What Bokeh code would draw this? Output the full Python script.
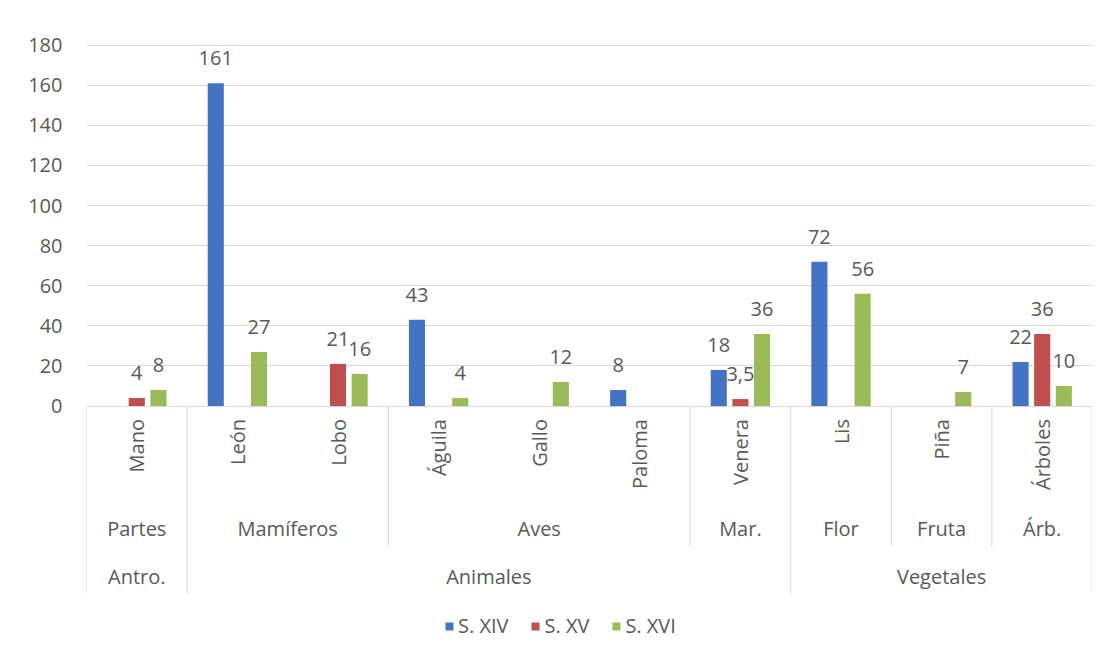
import math
from bokeh.plotting import figure
from bokeh.models import ColumnDataSource, FactorRange, Range1d, FixedTicker, Legend, LegendItem
from bokeh.transform import dodge
from bokeh.core.properties import value
from bokeh.embed import file_html
from bokeh.resources import INLINE

groups = ["Antro.", "Animales", "Animales", "Animales", "Animales", "Animales", "Animales", "Vegetales", "Vegetales", "Vegetales"]
subgroups = ["Partes", "Mamíferos", "Mamíferos", "Aves", "Aves", "Aves", "Mar.", "Flor", "Fruta", "Árb."]
items = ["Mano", "León", "Lobo", "Águila", "Gallo", "Paloma", "Venera", "Lis", "Piña", "Árboles"]

series_names = ["S. XIV", "S. XV", "S. XVI"]
s14 = [0, 161, 0, 43, 0, 8, 18, 72, 0, 22]
s15 = [4, 0, 21, 0, 0, 0, 3.5, 0, 0, 36]
s16 = [8, 27, 16, 4, 12, 0, 36, 56, 7, 10]
y_ticks = [0, 20, 40, 60, 80, 100, 120, 140, 160, 180]

colors = ["#4472C4", "#C0504D", "#9BBB59"]
offsets = [-0.215, 0.0, 0.215]
FONT = "Open Sans"
TXT = "#595959"
LINE = "#D9D9D9"

factors = list(zip(groups, subgroups, items))

# axis-band depths below the zero line (data units of the value axis)
SUB_DEPTH = -70
GRP_DEPTH = -93.5

p = figure(x_range=FactorRange(*factors, factor_padding=0, subgroup_padding=0, group_padding=0),
           y_range=Range1d(-116.4, 180.3),
           frame_width=1006, frame_height=595, output_backend="svg", toolbar_location=None,
           min_border_left=86, min_border_right=0, min_border_top=44, min_border_bottom=0)

p.xaxis.visible = False
p.xgrid.grid_line_color = None
p.ygrid.grid_line_color = LINE
p.ygrid.ticker = FixedTicker(ticks=y_ticks)
p.yaxis.ticker = FixedTicker(ticks=y_ticks)
p.yaxis.axis_line_color = None
p.yaxis.major_tick_line_color = None
p.yaxis.minor_tick_line_color = None
p.yaxis.major_label_text_font = FONT
p.yaxis.major_label_text_font_size = "20px"
p.yaxis.major_label_text_color = TXT
p.yaxis.major_label_standoff = 18
p.outline_line_color = None

# category labels (three levels) placed through the categorical scale
item_src = ColumnDataSource(dict(x=factors, y=[0] * len(factors), t=items))
p.text(x="x", y="y", text="t", source=item_src, angle=math.pi / 2,
       text_align="right", text_baseline="middle", y_offset=13,
       text_font=value(FONT), text_font_size="20px", text_color=TXT)

sub_keys = []
for g, s in zip(groups, subgroups):
    if (g, s) not in sub_keys:
        sub_keys.append((g, s))
sub_src = ColumnDataSource(dict(x=sub_keys, y=[0] * len(sub_keys), t=[k[1] for k in sub_keys]))
p.text(x="x", y="y", text="t", source=sub_src, text_align="center", text_baseline="middle",
       y_offset=122, text_font=value(FONT), text_font_size="20px", text_color=TXT)

grp_keys = []
for g in groups:
    if g not in grp_keys:
        grp_keys.append(g)
grp_src = ColumnDataSource(dict(x=grp_keys, y=[0] * len(grp_keys), t=grp_keys))
p.text(x="x", y="y", text="t", source=grp_src, text_align="center", text_baseline="middle",
       y_offset=170, text_font=value(FONT), text_font_size="20px", text_color=TXT)

# separators between groups / subgroups
left_f, left_d = [], []
for i, f in enumerate(factors):
    if i == 0 or groups[i] != groups[i - 1]:
        left_f.append(f); left_d.append(GRP_DEPTH)
    elif subgroups[i] != subgroups[i - 1]:
        left_f.append(f); left_d.append(SUB_DEPTH)
sep_src = ColumnDataSource(dict(x=left_f, y0=[0] * len(left_f), y1=left_d))
p.segment(x0=dodge("x", -0.5, range=p.x_range), x1=dodge("x", -0.5, range=p.x_range),
          y0="y0", y1="y1", source=sep_src, line_color=LINE, line_width=1)
end_src = ColumnDataSource(dict(x=[factors[-1]], y0=[0], y1=[GRP_DEPTH]))
p.segment(x0=dodge("x", 0.497, range=p.x_range), x1=dodge("x", 0.497, range=p.x_range),
          y0="y0", y1="y1", source=end_src, line_color=LINE, line_width=1)

vals = [s14, s15, s16]
legend_items = []
for name, v, c, off in zip(series_names, vals, colors, offsets):
    src = ColumnDataSource(dict(x=factors, top=v))
    r = p.vbar(x=dodge("x", off, range=p.x_range), top="top", width=0.16, source=src,
               fill_color=c, line_color=None)
    legend_items.append(LegendItem(label=name, renderers=[r]))
    lx = [f for f, t in zip(factors, v) if t != 0]
    lv = [t for t in v if t != 0]
    lt = [str(t).replace(".", ",") if t != int(t) else str(int(t)) for t in lv]
    lsrc = ColumnDataSource(dict(x=lx, y=lv, t=lt))
    p.text(x=dodge("x", off, range=p.x_range), y="y", text="t", source=lsrc,
           text_align="center", text_baseline="alphabetic", y_offset=-25,
           text_font=value(FONT), text_font_size="20px", text_color=TXT)

legend = Legend(items=legend_items, orientation="horizontal", location=(358, 0),
                label_text_font=FONT, label_text_font_size="20px", label_text_color=TXT,
                border_line_color=None, background_fill_alpha=0,
                glyph_width=10, glyph_height=10, spacing=22,
                label_standoff=4, padding=0, margin=0)
p.add_layout(legend, "center")

open("out.html", "w").write(file_html(p, INLINE))
